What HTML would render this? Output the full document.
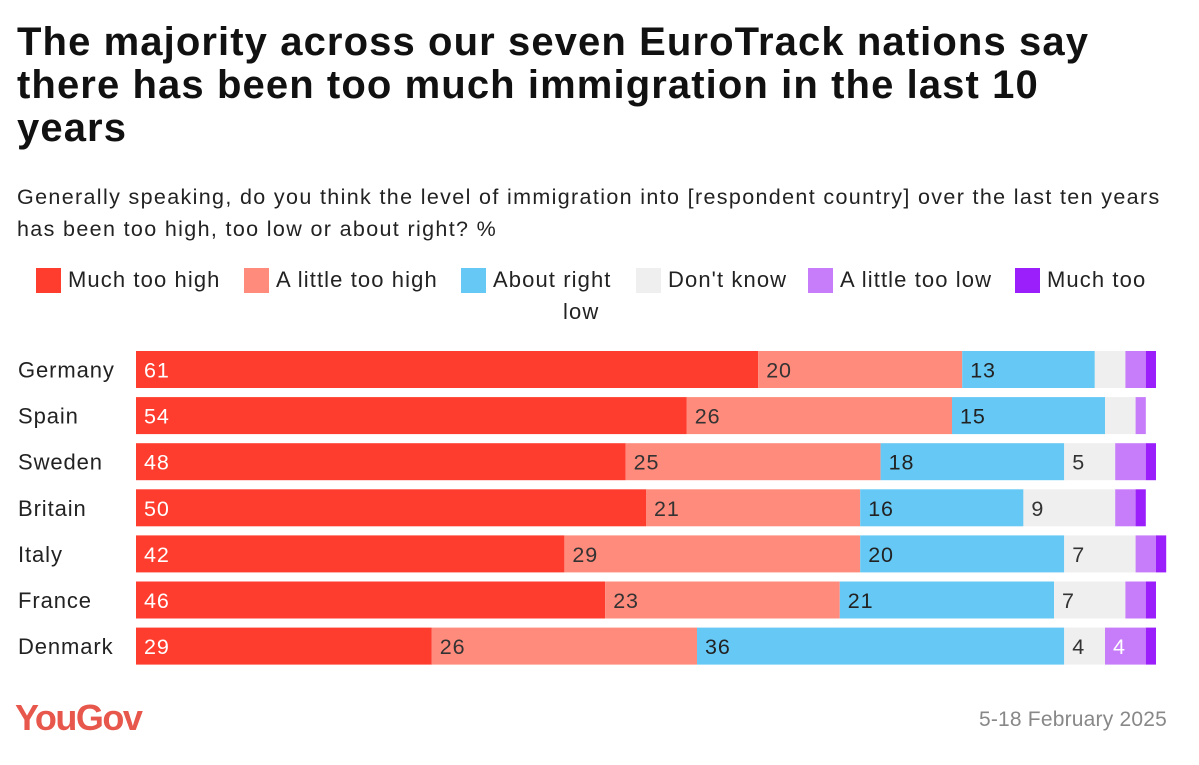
<!DOCTYPE html>
<html><head><meta charset="utf-8"><style>
body{margin:0;width:1199px;height:765px;background:#fff;font-family:"Liberation Sans",sans-serif;position:relative;overflow:hidden;color:#222}
.abs{position:absolute;white-space:nowrap}
#title{left:17px;top:21px;font-size:40px;font-weight:bold;line-height:43px;color:#111;letter-spacing:1.1px}
#sub{left:17px;top:181px;font-size:21.5px;line-height:32px;color:#222;letter-spacing:1.35px}
.sw{position:absolute;width:25px;height:25px;top:268px}
.lt{position:absolute;top:267px;font-size:22px;letter-spacing:1.1px}
</style></head><body>
<div id="title" class="abs">The majority across our seven EuroTrack nations say<br>there has been too much immigration in the last 10<br>years</div>
<div id="sub" class="abs">Generally speaking, do you think the level of immigration into [respondent country] over the last ten years<br>has been too high, too low or about right? %</div>
<div>
<div class="sw" style="left:36px;background:#ff3d2e"></div><div class="lt abs" style="left:68px">Much too high</div>
<div class="sw" style="left:244px;background:#ff8b7c"></div><div class="lt abs" style="left:276px">A little too high</div>
<div class="sw" style="left:461px;background:#66c8f4"></div><div class="lt abs" style="left:493px">About right</div>
<div class="sw" style="left:636px;background:#efefef"></div><div class="lt abs" style="left:668px">Don't know</div>
<div class="sw" style="left:808px;background:#c77dfa"></div><div class="lt abs" style="left:840px">A little too low</div>
<div class="sw" style="left:1015px;background:#9b1ffb"></div><div class="lt abs" style="left:1047px">Much too</div>
<div class="lt abs" style="left:563px;top:299px">low</div>
</div>
<svg id="chart" class="abs" style="left:0;top:0" width="1199" height="765"></svg>
<div class="abs" style="left:15px;top:697px;font-size:36px;font-weight:bold;color:#e8574c;letter-spacing:-1.5px">YouGov</div>
<div class="abs" style="right:32px;top:708px;font-size:21px;color:#888;letter-spacing:0.2px">5-18 February 2025</div>
<script>
const countries=["Germany","Spain","Sweden","Britain","Italy","France","Denmark"];
const muchHigh=[61,54,48,50,42,46,29];
const littleHigh=[20,26,25,21,29,23,26];
const aboutRight=[13,15,18,16,20,21,36];
const dontKnow=[3,3,5,9,7,7,4];
const littleLow=[2,1,3,2,2,2,4];
const muchLow=[1,0,1,1,1,1,1];
const series=[muchHigh,littleHigh,aboutRight,dontKnow,littleLow,muchLow];
const colors=["#ff3d2e","#ff8b7c","#66c8f4","#efefef","#c77dfa","#9b1ffb"];
const labelColors=["#fff","#333","#222","#333","#fff","#fff"];
const names=["much-too-high","little-too-high","about-right","dont-know","little-too-low","much-too-low"];
const x0=136,unit=10.2,y0=351,step=46.1,bh=37;
const xs=v=>x0+v*unit, ys=i=>y0+i*step;
const svg=document.getElementById('chart');const NS="http://www.w3.org/2000/svg";
countries.forEach((c,i)=>{
  const t=document.createElementNS(NS,'text');
  t.setAttribute('x',18);t.setAttribute('y',ys(i)+bh/2+8);t.setAttribute('font-size','22');t.setAttribute('letter-spacing','0.9');t.setAttribute('fill','#222');
  t.textContent=c;
  
  
  svg.appendChild(t);
  let cum=0;
  series.forEach((s,k)=>{
    const v=s[i];if(v<=0)return;
    const r=document.createElementNS(NS,'rect');
    r.setAttribute('x',xs(cum));r.setAttribute('y',ys(i));r.setAttribute('width',v*unit);r.setAttribute('height',bh);r.setAttribute('fill',colors[k]);
    
    
    svg.appendChild(r);
    if(v>=4){
      const l=document.createElementNS(NS,'text');
      l.setAttribute('x',xs(cum)+8);l.setAttribute('y',ys(i)+bh/2+8);l.setAttribute('font-size','21.5');l.setAttribute('letter-spacing','0.9');l.setAttribute('fill',labelColors[k]);
      l.textContent=v;
      
      
      svg.appendChild(l);
    }
    cum+=v;
  });
});
</script>
</body></html>
